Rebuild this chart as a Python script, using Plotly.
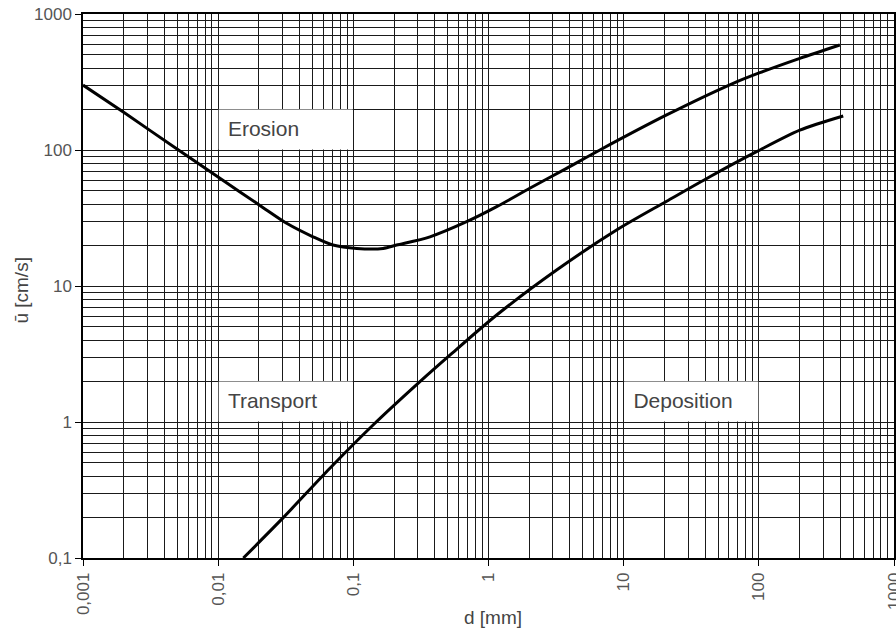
import plotly.graph_objects as go

# ---- data ----
erosion_d = [0.001, 0.00205, 0.00493, 0.0103, 0.021, 0.0321, 0.0503, 0.0707, 0.106,
             0.166, 0.209, 0.369, 0.689, 1.15, 2.02, 3.78, 6.67, 20.8, 64.6, 101.7, 201, 397]
erosion_u = [300, 186, 102, 62, 38.3, 28.9, 23.0, 20.0, 18.9,
             18.9, 20.0, 23.0, 29.7, 38.3, 52.3, 73.3, 100, 181, 309, 370, 472, 592]

deposition_d = [0.01535, 0.0303, 0.0671, 0.140, 0.311, 0.518, 1.15, 3.19, 8.86,
                20.8, 43.4, 96.2, 201, 421]
deposition_u = [0.1, 0.198, 0.457, 0.95, 1.98, 3.1, 6.12, 13.1, 25.8,
                42, 63.6, 97.2, 140, 178]

x_tickvals = [0.001, 0.01, 0.1, 1, 10, 100, 1000]
x_ticktext = ["0,001", "0,01", "0,1", "1", "10", "100", "1000"]
y_tickvals = [0.1, 1, 10, 100, 1000]
y_ticktext = ["0,1", "1", "10", "100", "1000"]

region_labels = ["Erosion", "Transport", "Deposition"]
# label boxes: (x0, x1, y0, y1) in data units
region_boxes = [(0.01, 0.1, 100, 200), (0.01, 0.1, 1, 2), (10, 100, 1, 2)]

FONT = "Liberation Sans, Arial, sans-serif"

def minor_vals(lo_exp, hi_exp):
    vals = []
    for e in range(lo_exp, hi_exp):
        for k in range(2, 10):
            vals.append(k * 10.0 ** e)
    return vals

fig = go.Figure()

# white label boxes (cover grid lines)
eps = 1.009
for (x0, x1, y0, y1) in region_boxes:
    fig.add_trace(go.Scatter(
        x=[x0 * eps, x1 / eps, x1 / eps, x0 * eps, x0 * eps],
        y=[y0 * eps, y0 * eps, y1 / eps, y1 / eps, y0 * eps],
        mode="lines", fill="toself", fillcolor="white",
        line=dict(width=0, color="white"), hoverinfo="skip", showlegend=False))

# labels
for name, (x0, x1, y0, y1) in zip(region_labels, region_boxes):
    fig.add_trace(go.Scatter(
        x=[x0 * 1.18], y=[(y0 * y1) ** 0.5 * 0.985], mode="text", text=[name],
        textposition="middle right",
        textfont=dict(family=FONT, size=21, color="#444444"),
        hoverinfo="skip", showlegend=False))

fig.add_trace(go.Scatter(x=erosion_d, y=erosion_u, mode="lines",
                         line=dict(color="black", width=3, shape="spline", smoothing=0.8),
                         showlegend=False))
fig.add_trace(go.Scatter(x=deposition_d, y=deposition_u, mode="lines",
                         line=dict(color="black", width=3, shape="spline", smoothing=0.8),
                         showlegend=False))

grid_col = "#1a1a1a"
axis_common = dict(
    type="log", showline=True, linecolor="black", linewidth=1.5, mirror=True,
    ticks="outside", ticklen=6, tickcolor="black", tickwidth=1,
    showgrid=True, gridcolor=grid_col, gridwidth=1, zeroline=False,
    tickfont=dict(family=FONT, size=17, color="#555555"),
    ticklabeloverflow="allow", automargin=False,
)

fig.update_xaxes(**axis_common, range=[-3, 3], tickmode="array",
                 tickvals=x_tickvals, ticktext=x_ticktext, tickangle=-90,
                 minor=dict(tickvals=minor_vals(-3, 3), showgrid=True,
                            gridcolor=grid_col, gridwidth=1, ticks=""))
fig.update_yaxes(**axis_common, range=[-1, 3], tickmode="array",
                 tickvals=y_tickvals, ticktext=y_ticktext,
                 minor=dict(tickvals=minor_vals(-1, 3), showgrid=True,
                            gridcolor=grid_col, gridwidth=1, ticks=""))

fig.add_annotation(text="d [mm]", xref="paper", yref="paper", x=0.505, y=-0.110,
                   xanchor="center", yanchor="middle", showarrow=False,
                   font=dict(family=FONT, size=19, color="#444444"))
fig.add_annotation(text="ū [cm/s]", xref="paper", yref="paper", x=-0.0770, y=0.4926,
                   xanchor="center", yanchor="middle", showarrow=False, textangle=-90,
                   font=dict(family=FONT, size=19, color="#444444"))

fig.update_layout(width=896, height=630, margin=dict(l=83, r=2, t=14, b=72, autoexpand=False),
                  plot_bgcolor="white", paper_bgcolor="white")

fig.write_html("out.html")
